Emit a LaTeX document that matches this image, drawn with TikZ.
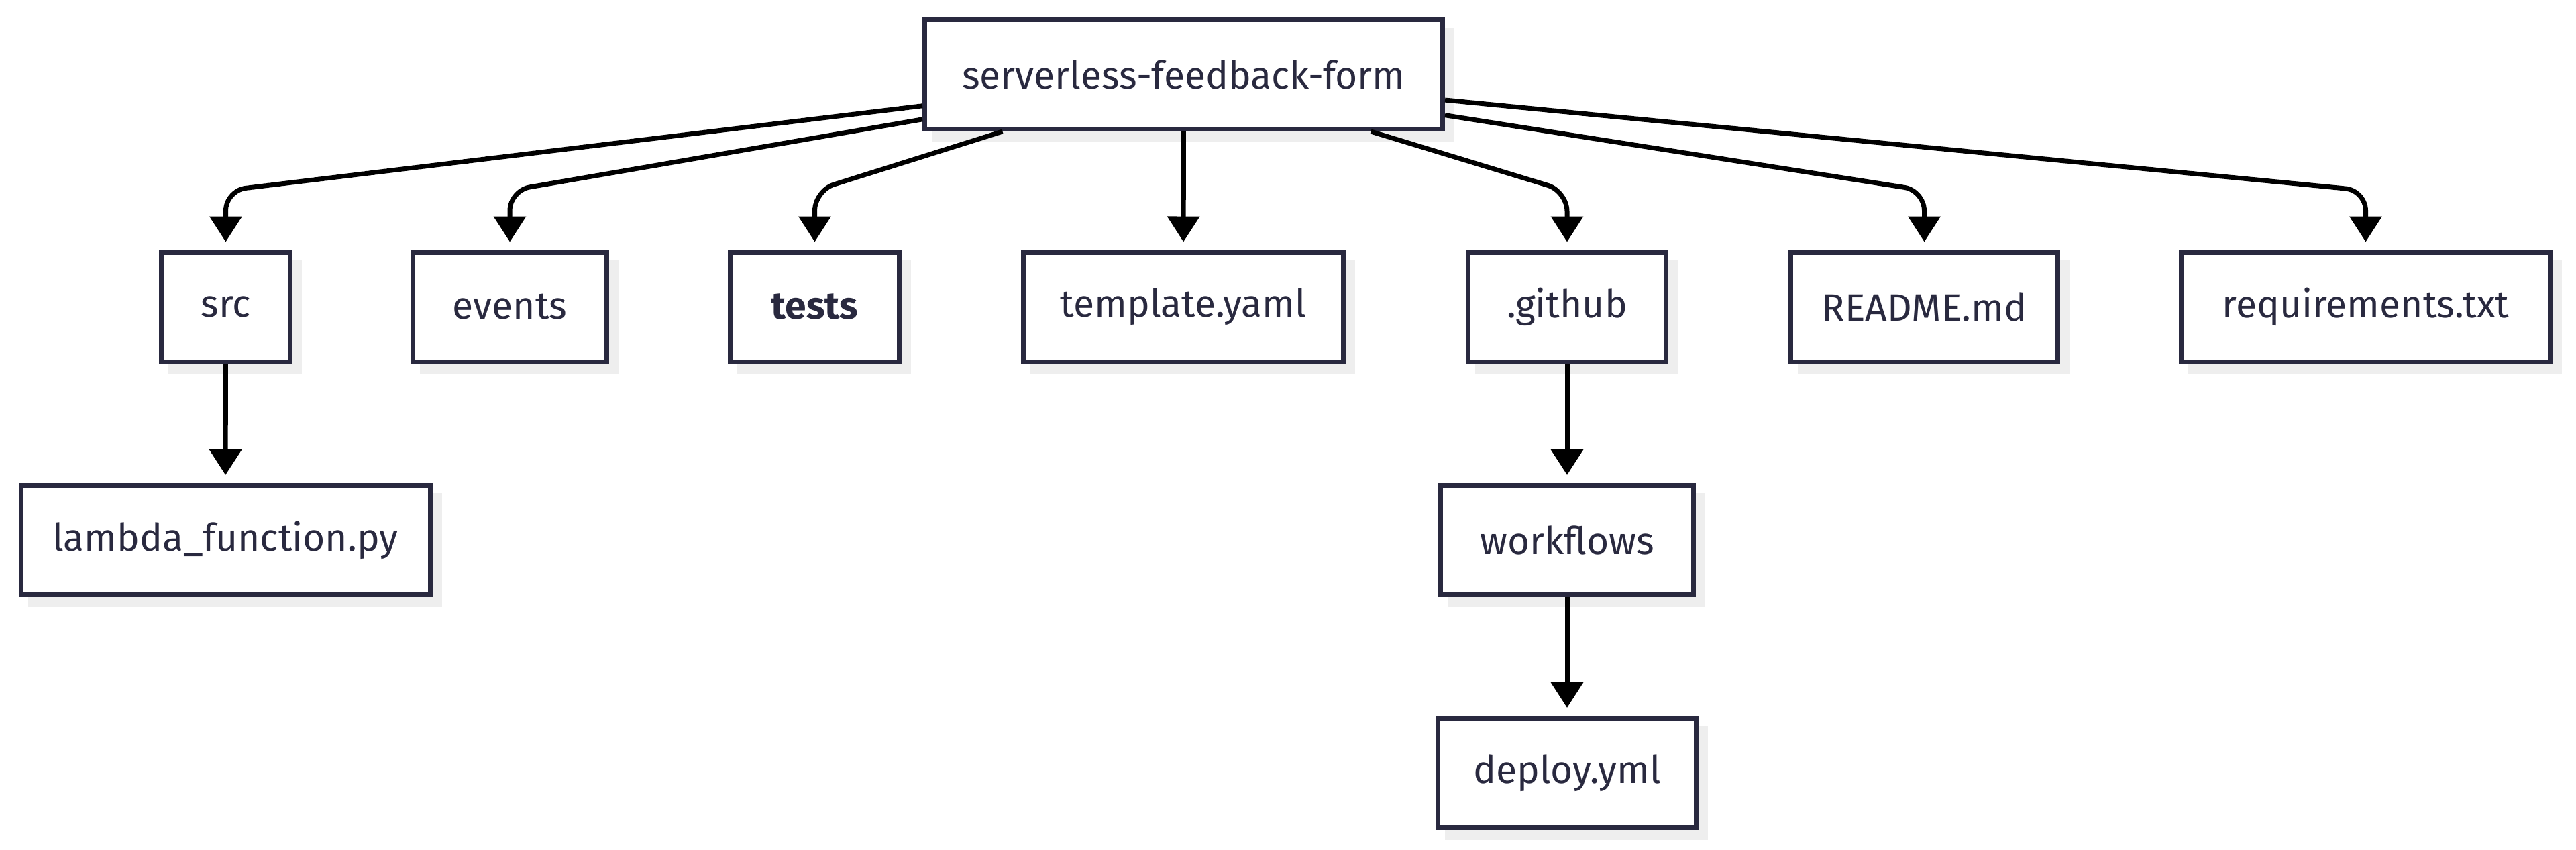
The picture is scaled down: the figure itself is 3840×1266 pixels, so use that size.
\documentclass[tikz,border=0pt]{standalone}
\usepackage{fontspec}
\setmainfont{Fira Sans}
\usetikzlibrary{arrows.meta}
\definecolor{ink}{HTML}{29293F}
\definecolor{shade}{HTML}{EEEEEE}
\begin{document}
\begin{tikzpicture}[x=0.5pt,y=-0.5pt,
  box/.style={draw=ink, line width=3.5pt, fill=white, text=ink,
    minimum height=81.5pt, inner sep=0pt, font=\fontsize{28.5}{32}\selectfont,
    preaction={draw=shade, fill=shade, line width=3.5pt,
      transform canvas={xshift=7pt,yshift=-7.5pt}}},
  conn/.style={draw=black, line width=3.5pt, rounded corners=15pt,
    -{Triangle[width=23.5pt,length=19pt]}, shorten >=6pt}]
\useasboundingbox (0,0) rectangle (3840,1266);

\node[box, minimum width=386pt] (root) at (1764.5,111) {serverless-feedback-form};
\node[box, minimum width=96pt] (src) at (336.5,457.5) {src};
\node[box, minimum width=144.5pt] (events) at (760,457.5) {events};
\node[box, minimum width=126pt, font=\fontsize{28.5}{32}\selectfont\bfseries] (tests) at (1214.5,457.5) {tests};
\node[box, minimum width=238.5pt] (template) at (1764,457.5) {template.yaml};
\node[box, minimum width=147.5pt] (github) at (2336,457.5) {.github};
\node[box, minimum width=199pt] (readme) at (2868.5,457.5) {README.md};
\node[box, minimum width=275pt] (req) at (3526.5,457.5) {requirements.txt};
\node[box, minimum width=305pt] (lambda) at (336,805) {lambda\_function.py};
\node[box, minimum width=188.5pt] (workflows) at (2336,805) {workflows};
\node[box, minimum width=192.5pt] (deploy) at (2336,1152) {deploy.yml};

\coordinate (bsrc) at (336.5,284);
\coordinate (bevents) at (760,284);
\coordinate (btests) at (1214.5,284);
\coordinate (bgithub) at (2336,285);
\coordinate (breadme) at (2868.5,284);
\coordinate (breq) at (3526.5,284);

\draw[conn] (root) -- (bsrc) -- (src);
\draw[conn] (root) -- (bevents) -- (events);
\draw[conn] (root) -- (btests) -- (tests);
\draw[conn] (root) -- (template);
\draw[conn] (root) -- (bgithub) -- (github);
\draw[conn] (root) -- (breadme) -- (readme);
\draw[conn] (root) -- (breq) -- (req);
\draw[conn] (src) -- (lambda);
\draw[conn] (github) -- (workflows);
\draw[conn] (workflows) -- (deploy);
\end{tikzpicture}
\end{document}
